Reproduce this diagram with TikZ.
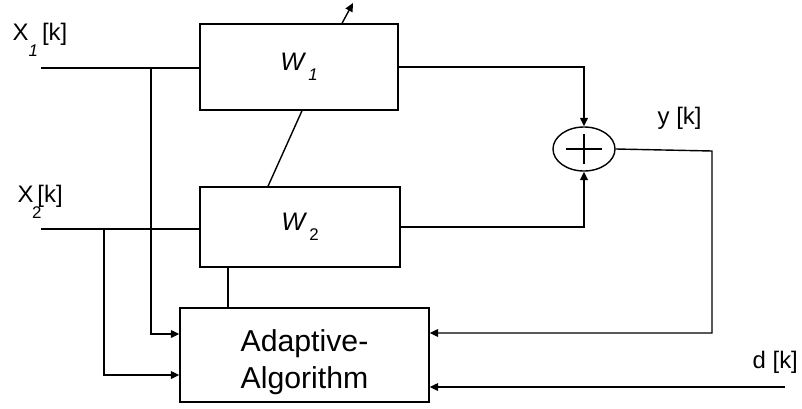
\documentclass[tikz,border=0pt]{standalone}
\usepackage{fontspec}
\setmainfont{Liberation Sans}
\usetikzlibrary{positioning,shapes.geometric,arrows.meta,calc}

\begin{document}
\begin{tikzpicture}[
        x=0.025cm, y=-0.025cm,
        line width=1pt,
        blk/.style={rectangle, draw, line width=1pt, inner sep=0pt},
        arr/.style={-{Triangle[length=6pt,width=5.5pt]}},
        lbl/.style={inner sep=0pt, font=\fontsize{17}{20}\selectfont},
        wlab/.style={font=\fontsize{18}{20}\selectfont\itshape}
      ]
        \useasboundingbox (0,0) rectangle (802,408);
        % filter blocks and adaptive algorithm
        \node[blk, wlab, minimum width=4.95cm, minimum height=2.15cm] at (299,67) (W1)
              {W\,\raisebox{-0.4em}{\fontsize{12}{12}\selectfont 1}};
        \node[blk, wlab, minimum width=5cm, minimum height=2cm] at (300,227) (W2)
              {W\,\raisebox{-0.4em}{\fontsize{12}{12}\selectfont\upshape 2}};
        \node[blk, minimum width=6.225cm, minimum height=2.35cm] at (304.5,355) (Alg) {};
        \node[inner sep=0pt, align=center, font=\fontsize{21.5}{26.5}\selectfont]
              at ([yshift=-0.18cm]Alg.center) (algtxt) {Adaptive-\\Algorithm};
        \node[ellipse, draw, minimum width=1.55cm, minimum height=1.1cm,
              inner sep=0pt] at (584,149) (sum) {};
        \draw ([xshift=-0.45cm]sum.center) -- ([xshift=0.45cm]sum.center);
        \draw ([yshift=-0.38cm]sum.center) -- ([yshift=0.38cm]sum.center);
        % labels
        \node[lbl, anchor=base west] at (12,40) (lx1)
              {X\raisebox{-0.7em}{\fontsize{12}{12}\selectfont\itshape 1}\,[k]};
        \node[lbl, anchor=base west] at (17,202) (lx2)
              {X\kern-1pt\raisebox{-0.7em}{\fontsize{12}{12}\selectfont 2}\kern-3pt[k]};
        \node[lbl, anchor=base west] at (657,124) (ly) {y [k]};
        \node[lbl, anchor=base west] at (752,368) (ld) {d [k]};
        % free ends and junctions
        \coordinate (x1in) at (41,68);
        \coordinate (x2in) at (41,229);
        \coordinate (j1) at (151,68);
        \coordinate (j2) at (104,229);
        \coordinate (fb) at (712,151);
        \coordinate (din) at (785,387);
        \coordinate (tune) at (353,3);
        \coordinate (w2a) at ([xshift=-1.8cm]W2.south);
        % inputs
        \draw (x1in) -- (x1in -| W1.west);
        \draw (x2in) -- (x2in -| W2.west);
        \draw[arr] (j1) |- ([yshift=0.525cm]Alg.west);
        \draw[arr] (j2) |- ([yshift=-0.5cm]Alg.west);
        % outputs to the sum
        \draw[arr] (W1.east) -| (sum.north);
        \draw[arr] (W2.east) -| (sum.south);
        % feedback and desired signal
        \draw[arr] (sum.east) -- (fb) |- ([yshift=0.55cm]Alg.east);
        \draw[arr] (din) -- (din -| Alg.east);
        % coupling of the weights
        \draw ([xshift=0.075cm]W1.south) -- ([xshift=-0.8cm]W2.north);
        \draw[arr] ([xshift=1.075cm]W1.north) -- (tune);
        \draw (w2a) -- (w2a |- Alg.north);
      \end{tikzpicture}
\end{document}
